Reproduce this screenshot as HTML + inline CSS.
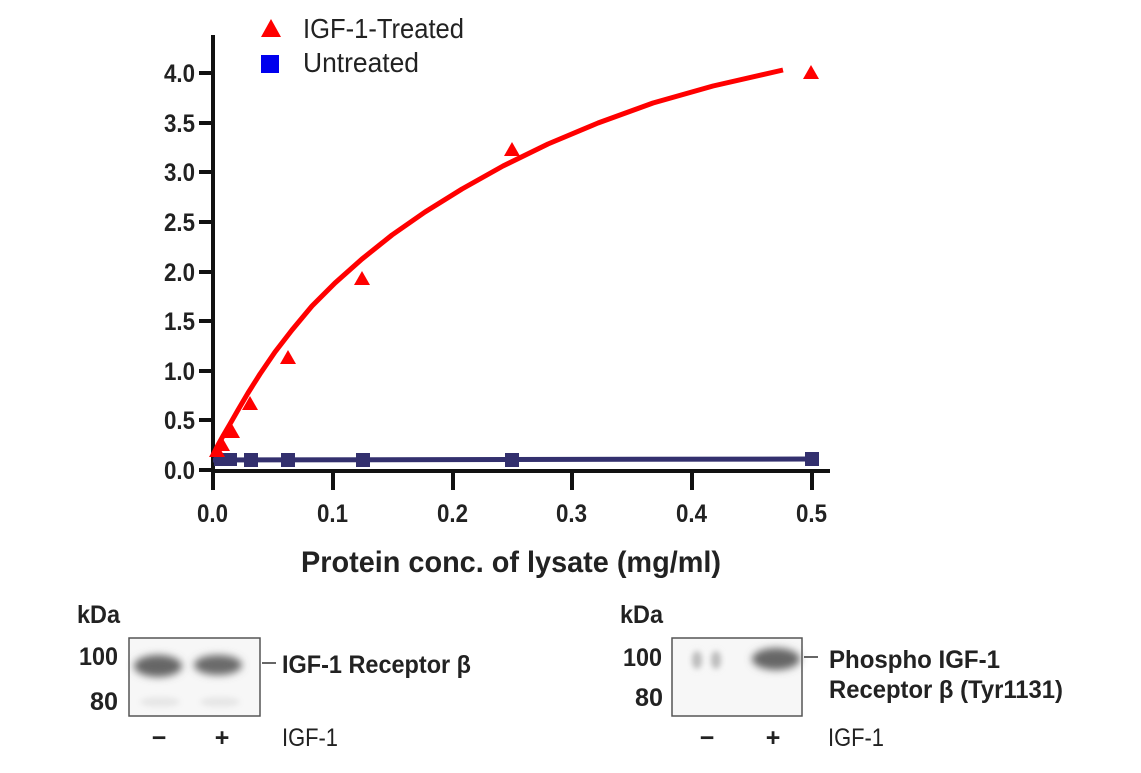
<!DOCTYPE html>
<html><head><meta charset="utf-8"><style>
html,body{margin:0;padding:0;background:#fff;}
svg text{font-family:"Liberation Sans Narrow","Liberation Sans",sans-serif;font-weight:bold;fill:#222;}
</style></head><body>
<svg width="1141" height="768" viewBox="0 0 1141 768" xmlns="http://www.w3.org/2000/svg">
<defs>
<filter id="b" x="-50%" y="-100%" width="200%" height="300%"><feGaussianBlur stdDeviation="4"/></filter>
<filter id="b2" x="-50%" y="-100%" width="200%" height="300%"><feGaussianBlur stdDeviation="3"/></filter>
</defs>
<line x1="213" y1="35" x2="213" y2="473" stroke="#111" stroke-width="4"/>
<line x1="211" y1="471" x2="830" y2="471" stroke="#111" stroke-width="4"/>
<g stroke="#111" stroke-width="4">
<line x1="199" y1="470" x2="213" y2="470"/><line x1="199" y1="420" x2="213" y2="420"/>
<line x1="199" y1="371" x2="213" y2="371"/><line x1="199" y1="321" x2="213" y2="321"/>
<line x1="199" y1="272" x2="213" y2="272"/><line x1="199" y1="222" x2="213" y2="222"/>
<line x1="199" y1="172" x2="213" y2="172"/><line x1="199" y1="123" x2="213" y2="123"/>
<line x1="199" y1="73" x2="213" y2="73"/>
<line x1="213" y1="471" x2="213" y2="490"/><line x1="333" y1="471" x2="333" y2="490"/>
<line x1="453" y1="471" x2="453" y2="490"/><line x1="572" y1="471" x2="572" y2="490"/>
<line x1="692" y1="471" x2="692" y2="490"/><line x1="812" y1="471" x2="812" y2="490"/>
</g>
<g font-size="25">
<text x="164" y="479" textLength="31" lengthAdjust="spacingAndGlyphs">0.0</text>
<text x="164" y="429" textLength="31" lengthAdjust="spacingAndGlyphs">0.5</text>
<text x="164" y="380" textLength="31" lengthAdjust="spacingAndGlyphs">1.0</text>
<text x="164" y="330" textLength="31" lengthAdjust="spacingAndGlyphs">1.5</text>
<text x="164" y="281" textLength="31" lengthAdjust="spacingAndGlyphs">2.0</text>
<text x="164" y="231" textLength="31" lengthAdjust="spacingAndGlyphs">2.5</text>
<text x="164" y="181" textLength="31" lengthAdjust="spacingAndGlyphs">3.0</text>
<text x="164" y="132" textLength="31" lengthAdjust="spacingAndGlyphs">3.5</text>
<text x="164" y="82" textLength="31" lengthAdjust="spacingAndGlyphs">4.0</text>
</g>
<g font-size="25">
<text x="197" y="522" textLength="31" lengthAdjust="spacingAndGlyphs">0.0</text>
<text x="317" y="522" textLength="31" lengthAdjust="spacingAndGlyphs">0.1</text>
<text x="437" y="522" textLength="31" lengthAdjust="spacingAndGlyphs">0.2</text>
<text x="556" y="522" textLength="31" lengthAdjust="spacingAndGlyphs">0.3</text>
<text x="676" y="522" textLength="31" lengthAdjust="spacingAndGlyphs">0.4</text>
<text x="796" y="522" textLength="31" lengthAdjust="spacingAndGlyphs">0.5</text>
</g>
<text x="301" y="572" font-size="30" textLength="420" lengthAdjust="spacingAndGlyphs">Protein conc. of lysate (mg/ml)</text>
<line x1="213" y1="460" x2="812" y2="459" stroke="#33306e" stroke-width="5"/>
<g fill="#33306e">
<rect x="214" y="453" width="13" height="13"/><rect x="224" y="453" width="13" height="13"/>
<rect x="244" y="453" width="14" height="14"/><rect x="281" y="453" width="14" height="14"/>
<rect x="356" y="453" width="14" height="14"/><rect x="505" y="453" width="14" height="14"/>
<rect x="805" y="452" width="14" height="14"/>
</g>
<path fill="none" stroke="#f00" stroke-width="5" stroke-linejoin="round" d="M213,455 L218,445 L223,436 L230,424 L238,410 L248,393 L260,374 L275,352 L292,330 L312,306 L335,283 L362,259 L392,235 L425,212 L462,189 L503,166 L548,144 L598,123 L653,103 L713,86 L783,70"/>
<g fill="#f00">
<path d="M811,65 L819,79 L803,79Z"/><path d="M512,142 L520,156 L504,156Z"/>
<path d="M362,271 L370,285 L354,285Z"/><path d="M288,350 L296,364 L280,364Z"/>
<path d="M250,396 L258,410 L242,410Z"/><path d="M232,424 L240,438 L224,438Z"/>
<path d="M222,437 L230,451 L214,451Z"/><path d="M217,443 L225,457 L209,457Z"/>
</g>
<path d="M271,19 L281,37 L261,37Z" fill="#f00"/>
<text x="303" y="38" font-size="28" style="font-weight:normal" textLength="161" lengthAdjust="spacingAndGlyphs">IGF-1-Treated</text>
<rect x="261" y="55" width="18" height="18" fill="#0000ee"/>
<text x="303" y="72" font-size="28" style="font-weight:normal" textLength="116" lengthAdjust="spacingAndGlyphs">Untreated</text>
<!-- blot 1 -->
<text x="77" y="623" font-size="25" textLength="43" lengthAdjust="spacingAndGlyphs">kDa</text>
<text x="79" y="665" font-size="25" textLength="39" lengthAdjust="spacingAndGlyphs">100</text>
<text x="90" y="710" font-size="25" textLength="28" lengthAdjust="spacingAndGlyphs">80</text>
<rect x="129" y="638" width="131" height="78" fill="#f7f7f7" stroke="#555" stroke-width="1.5"/>
<ellipse cx="158" cy="666" rx="24" ry="11" fill="#666" filter="url(#b)"/>
<ellipse cx="218" cy="665" rx="24" ry="10" fill="#6a6a6a" filter="url(#b)"/>
<ellipse cx="160" cy="702" rx="20" ry="5" fill="#e6e6e6" filter="url(#b2)"/>
<ellipse cx="220" cy="702" rx="20" ry="5" fill="#e6e6e6" filter="url(#b2)"/>
<line x1="262" y1="663" x2="276" y2="663" stroke="#333" stroke-width="1.5"/>
<text x="282" y="673" font-size="25" textLength="189" lengthAdjust="spacingAndGlyphs">IGF-1 Receptor β</text>
<text x="159" y="746" font-size="25" text-anchor="middle">−</text>
<text x="222" y="746" font-size="25" text-anchor="middle">+</text>
<text x="282" y="746" font-size="25" style="font-weight:normal" textLength="56" lengthAdjust="spacingAndGlyphs">IGF-1</text>
<!-- blot 2 -->
<text x="620" y="623" font-size="25" textLength="43" lengthAdjust="spacingAndGlyphs">kDa</text>
<text x="623" y="666" font-size="25" textLength="39" lengthAdjust="spacingAndGlyphs">100</text>
<text x="635" y="706" font-size="25" textLength="28" lengthAdjust="spacingAndGlyphs">80</text>
<rect x="672" y="638" width="130" height="78" fill="#f7f7f7" stroke="#555" stroke-width="1.5"/>
<ellipse cx="697" cy="660" rx="5" ry="9" fill="#bbb" filter="url(#b2)"/>
<ellipse cx="716" cy="660" rx="5" ry="9" fill="#bbb" filter="url(#b2)"/>
<ellipse cx="776" cy="659" rx="24" ry="11" fill="#666" filter="url(#b)"/>
<line x1="804" y1="657" x2="818" y2="657" stroke="#333" stroke-width="1.5"/>
<text x="829" y="668" font-size="25" textLength="171" lengthAdjust="spacingAndGlyphs">Phospho IGF-1</text>
<text x="829" y="698" font-size="25" textLength="234" lengthAdjust="spacingAndGlyphs">Receptor β (Tyr1131)</text>
<text x="707" y="746" font-size="25" text-anchor="middle">−</text>
<text x="773" y="746" font-size="25" text-anchor="middle">+</text>
<text x="828" y="746" font-size="25" style="font-weight:normal" textLength="56" lengthAdjust="spacingAndGlyphs">IGF-1</text>
</svg>
</body></html>
